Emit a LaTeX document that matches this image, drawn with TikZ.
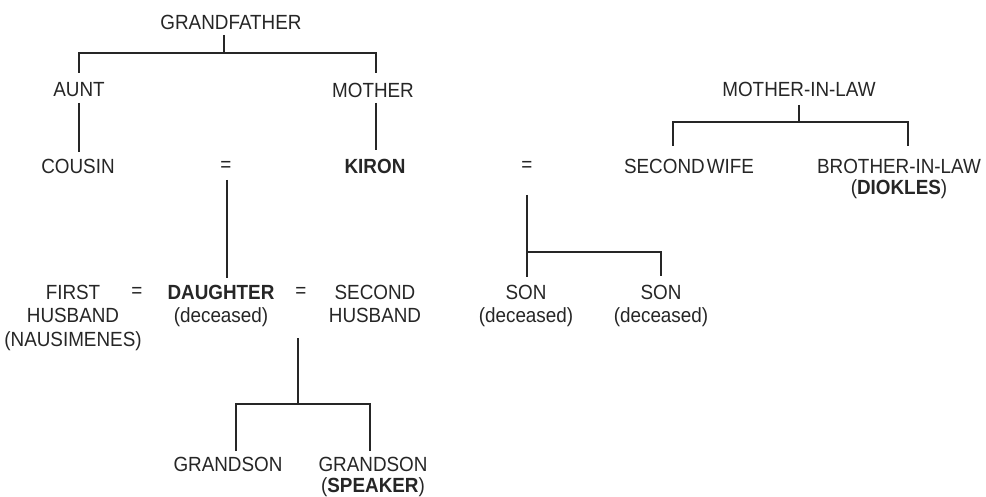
\documentclass[tikz,border=0pt]{standalone}
\usepackage{fontspec}
\setmainfont{Liberation Sans}[FakeStretch=0.92]
\definecolor{ink}{HTML}{262626}
\begin{document}
\begin{tikzpicture}[x=1pt,y=-1pt,
  lbl/.style={inner sep=0pt, outer sep=0pt, anchor=north, align=center, text=ink,
              font=\fontsize{20.5pt}{23pt}\selectfont},
  eqs/.style={inner sep=0pt, outer sep=0pt, anchor=center, text=ink,
              font=\fontsize{20.5pt}{23pt}\selectfont},
  link/.style={draw=ink, line width=1.9pt}]
\useasboundingbox[fill=white] (0,0) rectangle (986,497);

% --- text nodes
\node[lbl] (gf)     at (231,14.7)  {GRANDFATHER};
\node[lbl] (aunt)   at (79,82.7)   {AUNT};
\node[lbl] (mother) at (373,82.7)  {MOTHER};
\node[lbl] (mil)    at (799,81.7)  {MOTHER-IN-LAW};
\node[lbl] (cousin) at (78,158.7)  {COUSIN};
\node[eqs] (eqA)    at (226,166)   {=};
\node[lbl] (kiron)  at (375,158.7) {\textbf{KIRON}};
\node[eqs] (eqB)    at (527,166)   {=};
\node[lbl] (wife)   at (689,158.7) {SECOND\kern0.1em WIFE};
\node[lbl] (bil)    at (899,158.7) {BROTHER-IN-LAW\\[-2pt](\textbf{DIOKLES})};
\node[lbl] (fh)     at (73,284.7)  {FIRST\\HUSBAND\\[1pt](NAUSIMENES)};
\node[eqs] (eqC)    at (137,292)   {=};
\node[lbl] (dau)    at (221,284.7) {\textbf{DAUGHTER}\\(deceased)};
\node[eqs] (eqD)    at (301,292)   {=};
\node[lbl] (sh)     at (375,284.7) {SECOND\\HUSBAND};
\node[lbl] (son1)   at (526,284.7) {SON\\(deceased)};
\node[lbl] (son2)   at (661,284.7) {SON\\(deceased)};
\node[lbl] (gs1)    at (228,456.7) {GRANDSON};
\node[lbl] (gs2)    at (373,456.7) {GRANDSON\\[-2pt](\textbf{SPEAKER})};

% --- junction coordinates
\coordinate (gfT) at (224,35);
\coordinate (gfL) at (79,53);
\coordinate (gfR) at (376,53);
\coordinate (auntT) at (79,73);
\coordinate (motherT) at (376,73);
\coordinate (auntB) at (79,103);
\coordinate (cousinT) at (79,152);
\coordinate (motherB) at (376,103);
\coordinate (kironT) at (376,150);
\coordinate (eqAB) at (227,180);
\coordinate (dauT) at (227,278);
\coordinate (eqBB) at (527,195);
\coordinate (sonsL) at (527,252);
\coordinate (sonsR) at (661,252);
\coordinate (son1T) at (527,277);
\coordinate (son2T) at (661,276);
\coordinate (milB) at (799,105);
\coordinate (milL) at (673,122);
\coordinate (milR) at (908,122);
\coordinate (wifeT) at (673,146);
\coordinate (bilT) at (908,146);
\coordinate (eqDB) at (298,338);
\coordinate (gsL) at (236,404);
\coordinate (gsR) at (370,404);
\coordinate (gs1T) at (236,451);
\coordinate (gs2T) at (370,451);

% --- connectors
\draw[link] (gfT) -- (gfT |- gfL);
\draw[link] (auntT) -- (gfL) -- (gfR) -- (motherT);
\draw[link] (auntB) -- (cousinT);
\draw[link] (motherB) -- (kironT);
\draw[link] (eqAB) -- (dauT);
\draw[link] (eqBB) -- (son1T);
\draw[link] (sonsL) -- (sonsR) -- (son2T);
\draw[link] (milB) -- (milB |- milL);
\draw[link] (wifeT) -- (milL) -- (milR) -- (bilT);
\draw[link] (eqDB) -- (eqDB |- gsL);
\draw[link] (gs1T) -- (gsL) -- (gsR) -- (gs2T);
\end{tikzpicture}
\end{document}
